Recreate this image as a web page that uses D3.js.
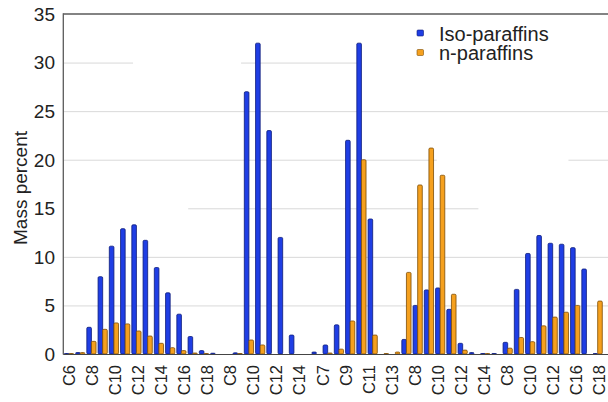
<!DOCTYPE html>
<html>
<head>
<meta charset="utf-8">
<script src="https://cdn.jsdelivr.net/npm/d3@7"></script>
<style>
  body { margin: 0; background: #fff; }
  svg { display: block; font-family: "Liberation Sans", Arial, Helvetica, sans-serif; }
</style>
</head>
<body>
<svg id="chart"></svg>
<script>
// carbon number of every slot on the x axis (5 samples side by side)
var categories = [
  "C6","C7","C8","C9","C10","C11","C12","C13","C14","C15","C16","C17","C18",
  "C7","C8","C9","C10","C11","C12","C13","C14",
  "C6","C7","C8","C9","C10","C11","C12","C13",
  "C6","C7","C8","C9","C10","C11","C12","C13","C14",
  "C7","C8","C9","C10","C11","C12","C13","C14","C15","C16"
];

var isoParaffins = [
  0.05, 0.15, 2.75, 7.96, 11.1, 12.9, 13.3, 11.7, 8.9, 6.3, 4.1, 1.8, 0.35,
  0.08, 0, 0.12, 27.0, 32.0, 23.0, 12.0, 1.95,
  0, 0.2, 0.93, 3.0, 22.0, 32.0, 13.9, 0,
  0, 1.5, 5.0, 6.6, 6.8, 4.6, 1.1, 0.15, 0.05,
  0.05, 1.2, 6.65, 10.35, 12.2, 11.4, 11.3, 10.95, 8.75, 0.05
];

var nParaffins = [
  0.05, 0.15, 1.3, 2.54, 3.2, 3.1, 2.37, 1.85, 1.1, 0.65, 0.35, 0.1, 0.05,
  0, 0, 0.05, 1.44, 0.93, 0, 0, 0,
  0, 0, 0.1, 0.5, 3.4, 20.0, 1.95, 0.05,
  0.2, 8.4, 17.4, 21.2, 18.4, 6.15, 0.4, 0, 0.05,
  0, 0.6, 1.7, 1.27, 2.9, 3.8, 4.3, 5.0, 0, 5.45
];

var tickLabels = [
  "C6","C8","C10","C12","C14","C16","C18",
  "C8","C10","C12","C14",
  "C7","C9","C11","C13",
  "C8","C10","C12","C14",
  "C8","C10","C12","C16","C18"
];

var yTicks = [0, 5, 10, 15, 20, 25, 30, 35];

// gridlines are only partly drawn in the original figure (value, from slot, to slot)
var gridSpans = [
  [5, 0, 48.5], [10, 0, 48.5],
  [15, 11.1, 36.9],
  [20, 0, 33.2], [20, 44.9, 48.5],
  [25, 0, 48.5],
  [30, 0, 6.2], [30, 15.8, 26.1]
];

var seriesNames = ["Iso-paraffins", "n-paraffins"];
var fills = ["#1f3ee4", "#f5a01e"];
var strokes = ["#0b1a78", "#7d4d05"];

var width = 608, height = 402;
var mLeft = 63.3, mTop = 14, mBottom = 354, step = 11.25;

var svg = d3.select("#chart").attr("width", width).attr("height", height);
svg.append("rect").attr("width", width).attr("height", height).attr("fill", "#fff");

var x = d3.scaleBand()
  .domain(d3.range(categories.length))
  .range([mLeft, mLeft + step * categories.length])
  .paddingInner(0.18)
  .paddingOuter(0.09);

var xs = d3.scaleBand().domain([0, 1]).range([0, x.bandwidth()]);

var y = d3.scaleLinear().domain([0, 35]).range([mBottom, mTop]);

// slot units -> pixels for gridline spans
var slot = d3.scaleLinear().domain([0, categories.length]).range([mLeft, mLeft + step * categories.length]);

// gridlines
svg.append("g").selectAll("line").data(gridSpans).enter().append("line")
  .attr("x1", function(d) { return slot(d[1]); })
  .attr("x2", function(d) { return Math.min(slot(d[2]), width); })
  .attr("y1", function(d) { return y(d[0]) + 0.5; })
  .attr("y2", function(d) { return y(d[0]) + 0.5; })
  .attr("stroke", "#d9d9d9")
  .attr("stroke-width", 1);

// bars
var rows = categories.map(function(c, i) {
  return { i: i, vals: [isoParaffins[i], nParaffins[i]] };
});

var cat = svg.append("g").selectAll("g").data(rows).enter().append("g")
  .attr("transform", function(d) { return "translate(" + x(d.i) + ",0)"; });

cat.selectAll("rect").data(function(d) { return d.vals; }).enter().append("rect")
  .attr("x", function(d, k) { return xs(k); })
  .attr("y", function(d) { return y(d); })
  .attr("width", xs.bandwidth())
  .attr("height", function(d) { return Math.max(0, y(0) - y(d)); })
  .attr("rx", 1.2)
  .attr("fill", function(d, k) { return fills[k]; })
  .attr("stroke", function(d, k) { return strokes[k]; })
  .attr("stroke-width", 0.8);

// frame: top, left and bottom lines
svg.append("line").attr("x1", mLeft).attr("x2", width).attr("y1", mTop).attr("y2", mTop)
  .attr("stroke", "#5a5a5a").attr("stroke-width", 1.5);
svg.append("line").attr("x1", mLeft).attr("x2", mLeft).attr("y1", mTop - 0.7).attr("y2", mBottom + 0.5)
  .attr("stroke", "#5a5a5a").attr("stroke-width", 1.3);
svg.append("line").attr("x1", mLeft).attr("x2", width).attr("y1", mBottom + 0.5).attr("y2", mBottom + 0.5)
  .attr("stroke", "#444").attr("stroke-width", 1.2);

// y tick labels
svg.append("g").selectAll("text").data(yTicks).enter().append("text")
  .attr("x", 55)
  .attr("y", function(d) { return y(d); })
  .attr("dy", "0.36em")
  .attr("text-anchor", "end")
  .attr("font-size", 19)
  .attr("fill", "#222")
  .text(function(d) { return d; });

// y axis title
svg.append("text")
  .attr("transform", "translate(27,188) rotate(-90)")
  .attr("text-anchor", "middle")
  .attr("font-size", 19)
  .attr("fill", "#222")
  .text("Mass percent");

// x tick labels, evenly spread under the bars
var xl = d3.scalePoint()
  .domain(d3.range(tickLabels.length))
  .range([x(0) + x.bandwidth() / 2, x(categories.length - 1) + x.bandwidth() / 2 + 2]);

svg.append("g").selectAll("text").data(tickLabels).enter().append("text")
  .attr("transform", function(d, i) { return "translate(" + xl(i) + ",365) rotate(-90)"; })
  .attr("dy", "0.35em")
  .attr("text-anchor", "end")
  .attr("font-size", 16.5)
  .attr("fill", "#222")
  .text(function(d) { return d; });

// legend
var legend = svg.append("g").selectAll("g").data(seriesNames).enter().append("g")
  .attr("transform", function(d, i) { return "translate(417," + (30 + i * 19.5) + ")"; });
legend.append("rect")
  .attr("width", 6.5).attr("height", 6)
  .attr("rx", 1)
  .attr("fill", function(d, i) { return fills[i]; })
  .attr("stroke", function(d, i) { return strokes[i]; })
  .attr("stroke-width", 0.6);
legend.append("text")
  .attr("x", 22)
  .attr("y", 10.5)
  .attr("font-size", 20)
  .attr("fill", "#222")
  .text(function(d) { return d; });
</script>
</body>
</html>
